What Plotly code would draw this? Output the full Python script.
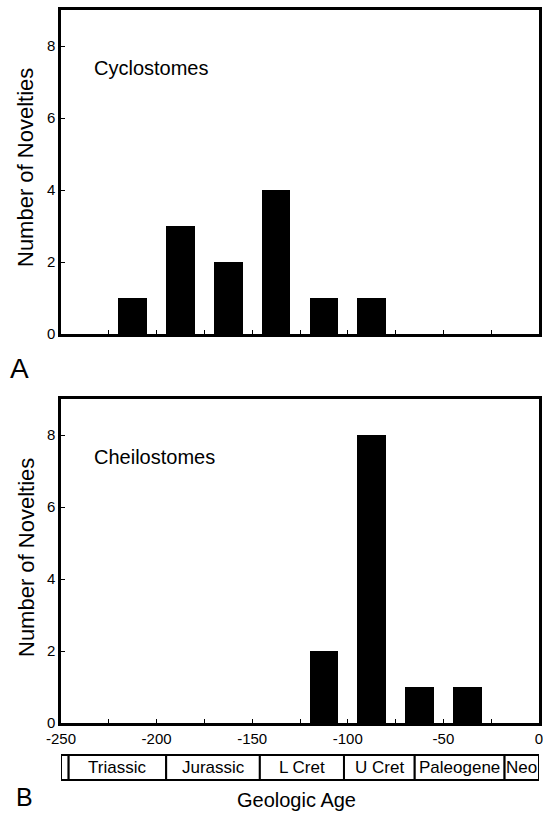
import plotly.graph_objects as go

# ---- data ----
cyclo_ages = [-212.5, -187.5, -162.5, -137.5, -112.5, -87.5]
cyclo_counts = [1, 3, 2, 4, 1, 1]
cheilo_ages = [-112.5, -87.5, -62.5, -37.5]
cheilo_counts = [2, 8, 1, 1]

x_ticks = [-250, -225, -200, -175, -150, -125, -100, -75, -50, -25, 0]
x_labels = ["-250", "", "-200", "", "-150", "", "-100", "", "-50", "", "0"]
y_ticks = [0, 2, 4, 6, 8]

period_bounds = [-250, -246, -195, -146, -102, -65, -18, 0]
period_names = ["", "Triassic", "Jurassic", "L Cret", "U Cret", "Paleogene", "Neo"]

W, H = 543, 813
FONT = "Liberation Sans, Arial, Helvetica, sans-serif"

def py(p):
    return 1 - p / H

fig = go.Figure()
fig.add_trace(go.Bar(x=cyclo_ages, y=cyclo_counts, width=15, marker=dict(color="black", line=dict(width=0)),
                     xaxis="x", yaxis="y", showlegend=False))
fig.add_trace(go.Bar(x=cheilo_ages, y=cheilo_counts, width=15, marker=dict(color="black", line=dict(width=0)),
                     xaxis="x2", yaxis="y2", showlegend=False))

xdom = [61 / W, 539 / W]
axis_common = dict(showline=True, linecolor="black", linewidth=2.5, mirror=True, showgrid=False,
                   zeroline=False, ticks="inside", ticklen=4, tickcolor="black", tickwidth=1.2,
                   automargin=False, ticklabeloverflow="allow",
                   tickfont=dict(family=FONT, size=15, color="black"))

fig.update_layout(
    width=W, height=H, margin=dict(l=0, r=0, t=0, b=0, pad=0),
    paper_bgcolor="white", plot_bgcolor="white",
    font=dict(family=FONT, color="black"),
    bargap=0,
    xaxis=dict(domain=xdom, range=[-250, 0], anchor="y", tickvals=x_ticks, ticktext=[""] * len(x_ticks), **axis_common),
    yaxis=dict(domain=[py(334), py(10)], range=[0, 9], anchor="x", tickvals=y_ticks,
               ticktext=[str(v) for v in y_ticks], **axis_common),
    xaxis2=dict(domain=xdom, range=[-250, 0], anchor="y2", tickvals=x_ticks, ticktext=x_labels, **axis_common),
    yaxis2=dict(domain=[py(723), py(399)], range=[0, 9], anchor="x2", tickvals=y_ticks,
                ticktext=[str(v) for v in y_ticks], **axis_common),
)

annotations = [
    dict(text="Cyclostomes", x=-234, y=7.4, xref="x", yref="y", xanchor="left", yanchor="middle",
         showarrow=False, font=dict(size=20, family=FONT)),
    dict(text="Cheilostomes", x=-234, y=7.4, xref="x2", yref="y2", xanchor="left", yanchor="middle",
         showarrow=False, font=dict(size=20, family=FONT)),
    dict(text="Number of Novelties", x=26 / W, y=py(168), xref="paper", yref="paper", textangle=-90,
         showarrow=False, font=dict(size=22, family=FONT), xanchor="center", yanchor="middle"),
    dict(text="Number of Novelties", x=26 / W, y=py(558), xref="paper", yref="paper", textangle=-90,
         showarrow=False, font=dict(size=22, family=FONT), xanchor="center", yanchor="middle"),
    dict(text="A", x=8 / W, y=py(368), xref="paper", yref="paper", xanchor="left", yanchor="middle",
         showarrow=False, font=dict(size=28, family=FONT)),
    dict(text="B", x=14 / W, y=py(797), xref="paper", yref="paper", xanchor="left", yanchor="middle",
         showarrow=False, font=dict(size=25, family=FONT)),
    dict(text="Geologic Age", x=296 / W, y=py(800), xref="paper", yref="paper", xanchor="center", yanchor="middle",
         showarrow=False, font=dict(size=20, family=FONT)),
]

shapes = []
for i, name in enumerate(period_names):
    x0, x1 = period_bounds[i], period_bounds[i + 1]
    shapes.append(dict(type="rect", xref="x2", yref="paper", x0=x0, x1=x1, y0=py(780), y1=py(755),
                       line=dict(color="black", width=2), fillcolor="white"))
    if name:
        annotations.append(dict(text=name, x=(x0 + x1) / 2, y=py(767), xref="x2", yref="paper",
                                xanchor="center", yanchor="middle", showarrow=False,
                                font=dict(size=17, family=FONT)))

fig.update_layout(annotations=annotations, shapes=shapes)
fig.write_html("out.html", config={"displayModeBar": False},
               post_script="document.body.style.margin='0px';document.body.style.overflow='hidden';")
